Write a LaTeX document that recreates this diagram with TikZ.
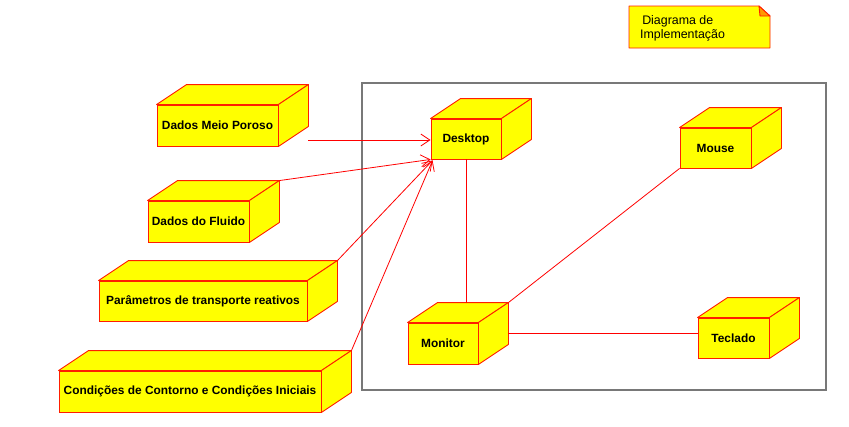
\documentclass[tikz,border=0pt]{standalone}
\usepackage{fontspec}
\setmainfont{Liberation Sans}
\usetikzlibrary{calc,arrows.meta}
\definecolor{nodefill}{RGB}{255,255,0}
\definecolor{nodeline}{RGB}{255,30,0}
\definecolor{frameline}{RGB}{120,120,120}
\tikzset{
  front/.style={draw=nodeline, fill=nodefill, line width=0.9pt, inner sep=0pt,
    font=\bfseries\fontsize{11.9}{14}\selectfont},
  face/.style={draw=nodeline, fill=nodefill, line width=0.9pt, line join=round},
  conn/.style={draw=red, line width=0.8pt},
  arr/.style={conn, -{Straight Barb[length=9pt,width=12pt,line width=0.8pt]}},
  framebox/.style={draw=frameline, line width=1.5pt, inner sep=0pt},
}
% \cubenode{name}{cx}{cy}{w}{h}{text}
\newcommand\cubenode[6]{%
  \node[front, minimum width=#4pt, minimum height=#5pt] (#1) at (#2,#3) {#6};
  \coordinate (#1-tl) at ($(#1.north west)+(30pt,20pt)$);
  \coordinate (#1-tr) at ($(#1.north east)+(30pt,20pt)$);
  \coordinate (#1-br) at ($(#1.south east)+(30pt,20pt)$);
  \path[face] (#1.north west) -- (#1-tl) -- (#1-tr) -- (#1.north east) -- cycle;
  \path[face] (#1.north east) -- (#1-tr) -- (#1-br) -- (#1.south east) -- cycle;
}
\begin{document}
\begin{tikzpicture}[x=1pt,y=-1pt]
\useasboundingbox (0,0) rectangle (849,426);
% container frame
\node[framebox, minimum width=464pt, minimum height=307pt] (frame) at (594,236.5) {};
% note
\path[face] (629,6) -- (759,6) -- (770,16) -- (770,48) -- (629,48) -- cycle;
\path[face, fill=orange!80!yellow] (759,6) -- (760,16) -- (770,16) -- cycle;
\node[anchor=west, align=left, font=\fontsize{12.4}{14}\selectfont, inner sep=0pt] (note) at (640,28) {\,Diagrama de\\Implementação};
% cubes
\cubenode{dmp}{217.5}{125.5}{121}{41}{Dados Meio Poroso}
\cubenode{dfl}{198.5}{221.5}{101}{41}{Dados do Fluido}
\cubenode{par}{203}{301}{208}{40}{Parâmetros de transporte reativos}
\cubenode{cond}{190}{391.5}{262}{41}{Condições de Contorno e Condições Iniciais}
\cubenode{desk}{466}{139}{70}{40}{Desktop}
\cubenode{mon}{443}{343.5}{70}{41}{Monitor}
\cubenode{mouse}{715.5}{148}{71}{40}{Mouse}
\cubenode{tec}{733.5}{338}{71}{40}{Teclado}
% connectors
\coordinate (dmpout) at (308,140);
\draw[arr] (dmpout) -- (dmpout -| desk.west);
\draw[arr] (dfl-tr) -- (desk.south west);
\draw[arr] (par-tr) -- ($(desk.south west)+(2,1)$);
\draw[arr] (cond-tr) -- ($(desk.south west)+(2,1)$);
\draw[conn] (desk.south) -- (desk.south |- mon-tr);
\draw[conn] (mouse.south west) -- (mon-tr);
\coordinate (mtout) at (508,333);
\draw[conn] (mtout) -- (mtout -| tec.west);
\end{tikzpicture}
\end{document}
